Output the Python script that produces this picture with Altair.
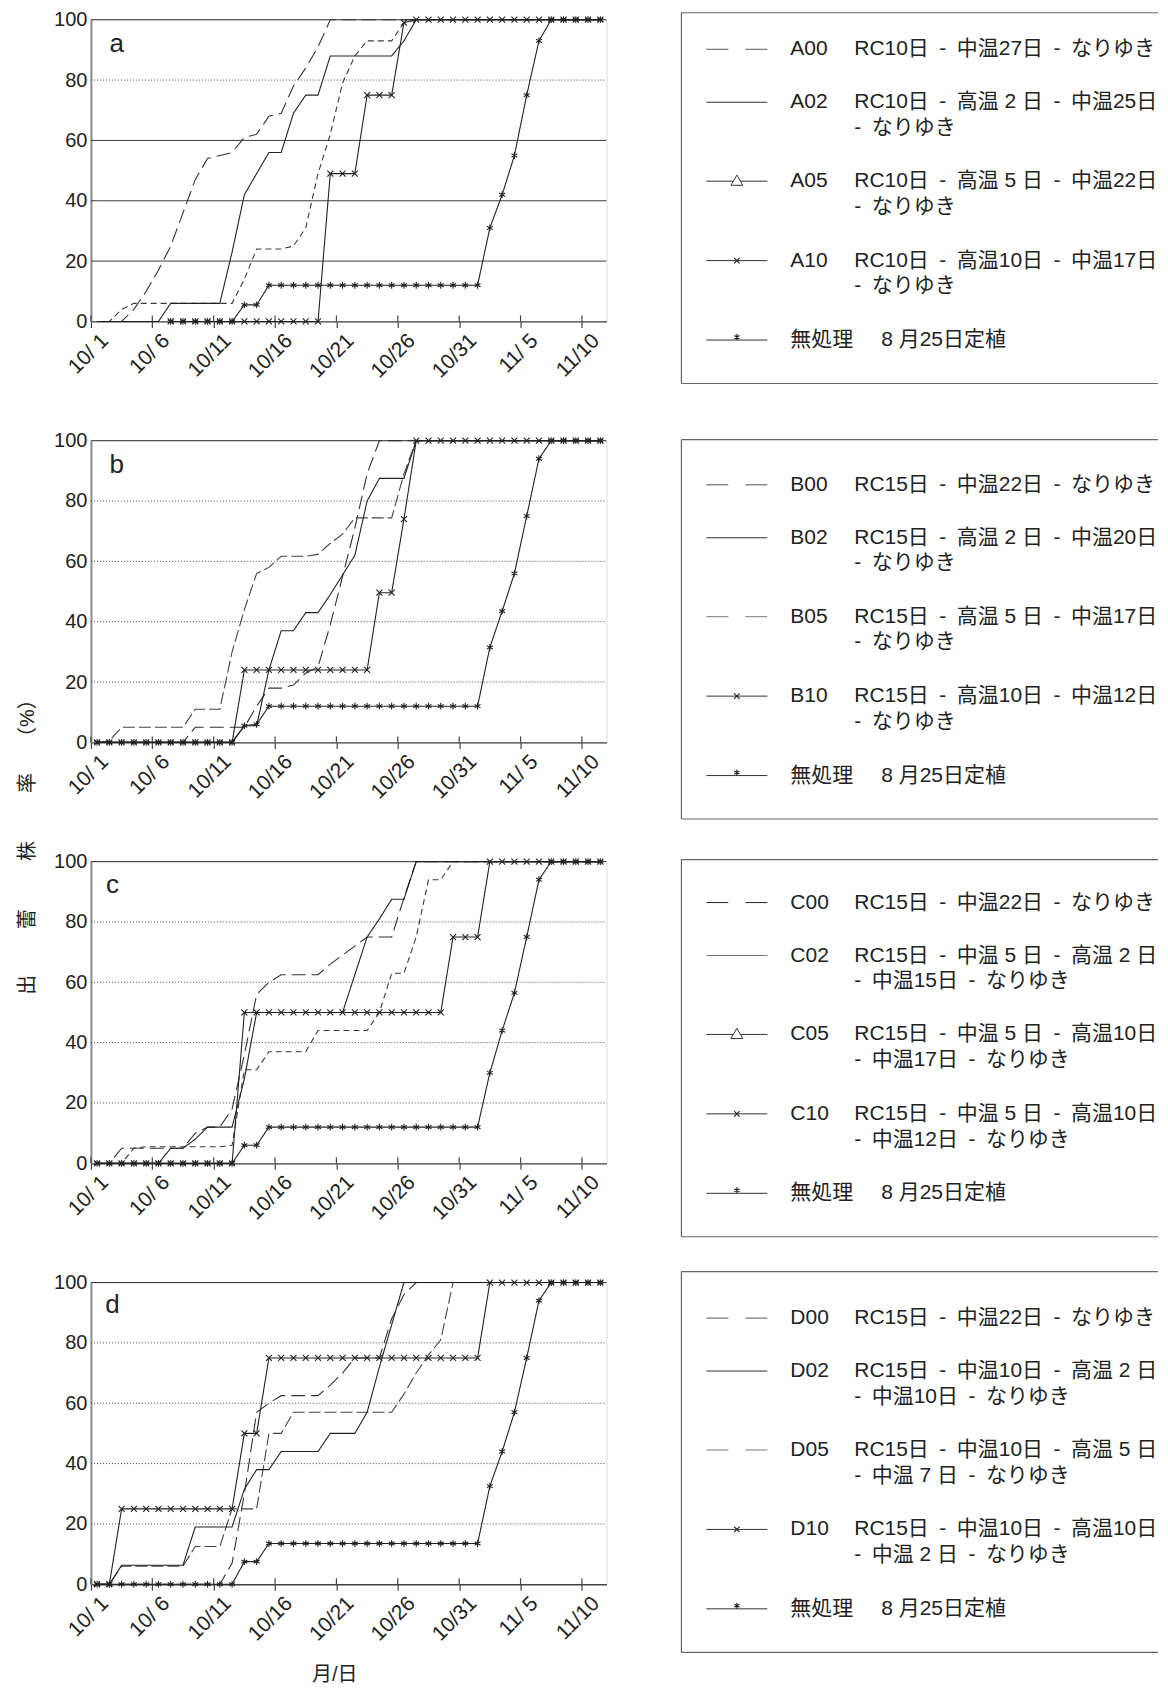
import altair as alt
import pandas as pd

FONT = "Liberation Sans, Noto Sans CJK JP"
W, H = 516, 302
ROW_GAP = 119.3
N = None

# ---------------- axis / grid values ----------------
x_tick_days = [0, 5, 10, 15, 20, 25, 30, 35, 40]
x_tick_labels = ["10/ 1", "10/ 6", "10/11", "10/16", "10/21", "10/26", "10/31", "11/ 5", "11/10"]
y_ticks = [0, 20, 40, 60, 80, 100]
grid_levels = [20, 40, 60, 80, 100]
grid_a = ["solid", "solid", "solid", "dot", "solid"]
grid_bcd = ["dot", "dot", "dot", "dot", "solid"]

# ---------------- panel a (day 0 = 10/1 ... day 41 = 11/11) ----------------
A00 = [0, 0, 0, 4, 10, 17, 25, 36, 47, 54, 55, 56, 61, 62,
       68, 69, 78, 84, 91, 100, 100, 100, 100, 100, 100, 100, 100, 100,
       100, 100, 100, 100, 100, 100, 100, 100, 100, 100, 100, 100, 100, 100]
A02 = [0, 0, 0, 0, 0, 0, 6, 6, 6, 6, 6, 23, 42, 49,
       56, 56, 69, 75, 75, 88, 88, 88, 88, 88, 88, 93, 100, 100,
       100, 100, 100, 100, 100, 100, 100, 100, 100, 100, 100, 100, 100, 100]
A05 = [0, 0, 4, 6, 6, 6, 6, 6, 6, 6, 6, 6, 14, 24,
       24, 24, 25, 31, 49, 62, 79, 88, 93, 93, 93, 99, 100, 100,
       100, 100, 100, 100, 100, 100, 100, 100, 100, 100, 100, 100, 100, 100]
A10 = [N, N, N, N, N, N, 0, 0, 0, 0, 0, 0, 0, 0,
       0, 0, 0, 0, 0, 49, 49, 49, 75, 75, 75, 99, 100, 100,
       100, 100, 100, 100, 100, 100, 100, 100, 100, 100, 100, 100, 100, 100]
SA = [N, N, N, N, N, N, 0, 0, 0, 0, 0, 0, 5.5, 5.5,
      12, 12, 12, 12, 12, 12, 12, 12, 12, 12, 12, 12, 12, 12,
      12, 12, 12, 12, 31, 42, 55, 75, 93, 100, 100, 100, 100, 100]

# ---------------- panel b ----------------
B00 = [0, 0, 0, 0, 0, 0, 0, 0, 5, 5, 5, 5, 5, 12,
       18, 18, 19, 23, 25, 39, 55, 71, 89, 100, 100, 100, 100, 100,
       100, 100, 100, 100, 100, 100, 100, 100, 100, 100, 100, 100, 100, 100]
B02 = [0, 0, 0, 0, 0, 0, 0, 0, 0, 0, 0, 0, 5.5, 5.5,
       24, 37, 37, 43, 43, 49, 55.5, 62, 80, 87.5, 87.5, 87.5, 100, 100,
       100, 100, 100, 100, 100, 100, 100, 100, 100, 100, 100, 100, 100, 100]
B05 = [0, 0.5, 5, 5, 5, 5, 5, 5, 11, 11, 11, 30, 44, 56,
       58, 61.7, 61.7, 61.7, 62.3, 66, 69, 74.4, 74.4, 74.4, 74.4, 89, 100, 100,
       100, 100, 100, 100, 100, 100, 100, 100, 100, 100, 100, 100, 100, 100]
B10 = [0, 0, 0, 0, 0, 0, 0, 0, 0, 0, 0, 0, 24, 24,
       24, 24, 24, 24, 24, 24, 24, 24, 24, 49.6, 49.6, 74, 100, 100,
       100, 100, 100, 100, 100, 100, 100, 100, 100, 100, 100, 100, 100, 100]
SB = [0, 0, 0, 0, 0, 0, 0, 0, 0, 0, 0, 0, 5.5, 6,
      12, 12, 12, 12, 12, 12, 12, 12, 12, 12, 12, 12, 12, 12,
      12, 12, 12, 12, 31.5, 43.5, 56, 75, 94, 100, 100, 100, 100, 100]

# ---------------- panel c ----------------
C00 = [0, 0, 5, 5, 5, 5, 5, 5, 10, 12, 12, 18, 36, 56,
       60, 62.5, 62.5, 62.5, 62.5, 66, 69, 72, 75, 75, 75, 88, 100, 100,
       100, 100, 100, 100, 100, 100, 100, 100, 100, 100, 100, 100, 100, 100]
C02 = [0, 0, 0, 0, 0, 0, 5, 5, 8, 12, 12, 12, 28, 50,
       50, 50, 50, 50, 50, 50, 50, 62.5, 75, 81, 87.5, 87.5, 100, 100,
       100, 100, 100, 100, 100, 100, 100, 100, 100, 100, 100, 100, 100, 100]
C05 = [0, 0, 0, 5, 5.5, 5.5, 5.5, 5.5, 5.5, 5.5, 5.5, 6, 31, 31,
       37, 37, 37, 37, 44, 44, 44, 44, 44, 50, 63, 63, 75, 94,
       94, 100, 100, 100, 100, 100, 100, 100, 100, 100, 100, 100, 100, 100]
C10 = [0, 0, 0, 0, 0, 0, 0, 0, 0, 0, 0, 0, 50, 50,
       50, 50, 50, 50, 50, 50, 50, 50, 50, 50, 50, 50, 50, 50,
       50, 75, 75, 75, 100, 100, 100, 100, 100, 100, 100, 100, 100, 100]
SC = [0, 0, 0, 0, 0, 0, 0, 0, 0, 0, 0, 0, 6, 6,
      12, 12, 12, 12, 12, 12, 12, 12, 12, 12, 12, 12, 12, 12,
      12, 12, 12, 12, 30, 44, 56.5, 75, 94, 100, 100, 100, 100, 100]

# ---------------- panel d ----------------
D00 = [0, 0, 0, 0, 0, 0, 0, 0, 0, 0, 0, 7, 30, 57,
       60, 62.5, 62.5, 62.5, 62.5, 66, 70, 75, 75, 75, 88, 96, 100, 100,
       100, 100, 100, 100, 100, 100, 100, 100, 100, 100, 100, 100, 100, 100]
D02 = [0, 0, 6.3, 6.3, 6.3, 6.3, 6.3, 6.3, 19, 19, 19, 19, 31.5, 38,
       38, 44, 44, 44, 44, 50, 50, 50, 57, 72, 86, 100, 100, 100,
       100, 100, 100, 100, 100, 100, 100, 100, 100, 100, 100, 100, 100, 100]
D05 = [0, 0, 6, 6, 6, 6, 6, 6, 12.5, 12.5, 12.5, 25, 25, 25,
       50, 50, 57, 57, 57, 57, 57, 57, 57, 57, 57, 63, 70, 76,
       81, 100, 100, 100, 100, 100, 100, 100, 100, 100, 100, 100, 100, 100]
D10 = [0, 0, 25, 25, 25, 25, 25, 25, 25, 25, 25, 25, 50, 50,
       75, 75, 75, 75, 75, 75, 75, 75, 75, 75, 75, 75, 75, 75,
       75, 75, 75, 75, 100, 100, 100, 100, 100, 100, 100, 100, 100, 100]
SD = [0, 0, 0, 0, 0, 0, 0, 0, 0, 0, 0, 0, 7.5, 7.5,
      13.5, 13.5, 13.5, 13.5, 13.5, 13.5, 13.5, 13.5, 13.5, 13.5, 13.5, 13.5, 13.5, 13.5,
      13.5, 13.5, 13.5, 13.5, 32.5, 44, 57, 75, 94, 100, 100, 100, 100, 100]

# ---------------- legend texts ----------------
legend_a = [("dash", "A00", ["RC10日 - 中温27日 - なりゆき"]),
            ("solid", "A02", ["RC10日 - 高温 2 日 - 中温25日", "- なりゆき"]),
            ("tri", "A05", ["RC10日 - 高温 5 日 - 中温22日", "- なりゆき"]),
            ("x", "A10", ["RC10日 - 高温10日 - 中温17日", "- なりゆき"]),
            ("star", "無処理", ["8 月25日定植"])]
legend_b = [("dash", "B00", ["RC15日 - 中温22日 - なりゆき"]),
            ("solid", "B02", ["RC15日 - 高温 2 日 - 中温20日", "- なりゆき"]),
            ("dash_light", "B05", ["RC15日 - 高温 5 日 - 中温17日", "- なりゆき"]),
            ("x", "B10", ["RC15日 - 高温10日 - 中温12日", "- なりゆき"]),
            ("star", "無処理", ["8 月25日定植"])]
legend_c = [("dash_dark", "C00", ["RC15日 - 中温22日 - なりゆき"]),
            ("solid_gray", "C02", ["RC15日 - 中温 5 日 - 高温 2 日", "- 中温15日 - なりゆき"]),
            ("tri", "C05", ["RC15日 - 中温 5 日 - 高温10日", "- 中温17日 - なりゆき"]),
            ("x", "C10", ["RC15日 - 中温 5 日 - 高温10日", "- 中温12日 - なりゆき"]),
            ("star", "無処理", ["8 月25日定植"])]
legend_d = [("dash", "D00", ["RC15日 - 中温22日 - なりゆき"]),
            ("solid", "D02", ["RC15日 - 中温10日 - 高温 2 日", "- 中温10日 - なりゆき"]),
            ("dash_light", "D05", ["RC15日 - 中温10日 - 高温 5 日", "- 中温 7 日 - なりゆき"]),
            ("x", "D10", ["RC15日 - 中温10日 - 高温10日", "- 中温 2 日 - なりゆき"]),
            ("star", "無処理", ["8 月25日定植"])]

ylab_chunks = ["出", "蕾", "株", "率", "（%）"]

# ---------------- styles / layout constants ----------------
STYLE_DOMAIN = ["dash", "short", "light", "solid", "xline", "starline"]
STYLE_DASH = [[14, 6], [6, 4], [12, 4], [1, 0], [1, 0], [1, 0]]
STYLE_COLOR = ["#333333", "#3a3a3a", "#444444", "#222222", "#222222", "#222222"]
X_PATH = "M-1,-1L1,1M-1,1L1,-1"
STAR_PATH = "M0,-1L0,1M-0.87,-0.5L0.87,0.5M-0.87,0.5L0.87,-0.5"

BOX_X0, BOX_X1 = 591, 1068
LINE_X0, LINE_X1, MARK_X = 616, 677, 646.5
CODE_X, DESC_X, PLANT_X = 700, 764, 791
ROW_Y = [43, 96, 175, 254.5, 334]
LINE2 = 25.7
BOX_H = 377.5
LFS = 21

BASE = pd.DataFrame({"k": [0]})
xscale = alt.Scale(domain=[0, 42], nice=False, zero=False)
yscale = alt.Scale(domain=[0, 100], nice=False, zero=True)
label_expr = ("[" + ",".join("'%s'" % t for t in x_tick_labels) + "][indexof(["
              + ",".join(str(d) for d in x_tick_days) + "], datum.value)]")
xaxis = alt.Axis(values=x_tick_days, labelExpr=label_expr, labelAngle=-45, labelFontSize=21,
                 labelFont=FONT, labelColor="#222222", labelFlush=False, labelOverlap=False,
                 labelBound=False, labelOffset=6, labelPadding=2, tickSize=6, tickColor="#444444",
                 tickWidth=1.2, domainColor="#444444", domainWidth=1.3, grid=False, title=None)
yaxis = alt.Axis(values=y_ticks, labelFontSize=20, labelFont=FONT, labelColor="#222222",
                 ticks=False, labelPadding=4, domainColor="#8a8a8a", domainWidth=2,
                 grid=False, title=None, labelFlush=False)


def sp(s):
    s = s.replace(" - ", "\u2002-\u2002")
    if s.startswith("- "):
        s = "-\u2002" + s[2:]
    return s


def text_layer(txt, x, y, size=LFS, align="left", baseline="middle", angle=None):
    kw = dict(text=txt, align=align, baseline=baseline, fontSize=size, font=FONT, color="#222222")
    if angle is not None:
        kw["angle"] = angle
    return alt.Chart(BASE).mark_text(**kw).encode(x=alt.value(x), y=alt.value(y))


def hrule(x0, x1, y, color="#555555", dash=None, width=1.0):
    kw = dict(color=color, strokeWidth=width)
    if dash:
        kw["strokeDash"] = dash
    return alt.Chart(BASE).mark_rule(**kw).encode(x=alt.value(x0), x2=alt.value(x1), y=alt.value(y))


def vrule(x, y0, y1, color="#666666", width=1.2):
    return alt.Chart(BASE).mark_rule(color=color, strokeWidth=width).encode(
        x=alt.value(x), y=alt.value(y0), y2=alt.value(y1))


def glyph_point(x, y, shape, size, filled=False):
    if filled:
        m = alt.Chart(BASE).mark_point(shape=shape, size=size, filled=True, fill="white",
                                       stroke="#333333", strokeWidth=1, opacity=1)
    else:
        m = alt.Chart(BASE).mark_point(shape=shape, size=size, filled=False,
                                       color="#222222", strokeWidth=1.2, opacity=1)
    return m.encode(x=alt.value(x), y=alt.value(y))


def legend_layers(items, top, line_top):
    layers = []
    layers.append(hrule(BOX_X0, BOX_X1, line_top, "#666666", width=1.2))
    layers.append(hrule(BOX_X0, BOX_X1, top + BOX_H, "#666666", width=1.2))
    layers.append(vrule(BOX_X0, line_top, top + BOX_H))
    for (glyph, code, desc), ry in zip(items, ROW_Y):
        y = top + ry
        if glyph == "dash":
            layers.append(hrule(LINE_X0, LINE_X1, y, "#555555", [22, 17]))
        elif glyph == "dash_dark":
            layers.append(hrule(LINE_X0, LINE_X1, y, "#222222", [22, 17]))
        elif glyph == "dash_light":
            layers.append(hrule(LINE_X0, LINE_X1, y, "#777777", [22, 17]))
        elif glyph == "solid_gray":
            layers.append(hrule(LINE_X0, LINE_X1, y, "#777777"))
        else:
            layers.append(hrule(LINE_X0, LINE_X1, y, "#333333"))
        if glyph == "tri":
            layers.append(glyph_point(MARK_X, y - 1, "triangle-up", 140, filled=True))
        elif glyph == "x":
            layers.append(glyph_point(MARK_X, y, X_PATH, 30))
        elif glyph == "star":
            layers.append(glyph_point(MARK_X, y - 3, STAR_PATH, 36))
        layers.append(text_layer(code, CODE_X, y))
        if glyph == "star":
            layers.append(text_layer(desc[0], PLANT_X, y))
        else:
            for i, line in enumerate(desc):
                layers.append(text_layer(sp(line), DESC_X, y + i * LINE2))
    return layers


def panel(entries, grid_styles, letter, letter_pos, legend_items, legend_top, line_top, extra=None):
    rows = []
    for code, vals, style in entries:
        for d, v in enumerate(vals):
            rows.append({"series": code, "style": style, "x": d + 0.5, "v": v})
    df = pd.DataFrame(rows)
    gdf = pd.DataFrame({"g": grid_levels, "gs": grid_styles})
    tdf = pd.DataFrame({"t": x_tick_days})

    X = alt.X("x:Q", scale=xscale, axis=xaxis)
    Y = alt.Y("v:Q", scale=yscale, axis=yaxis)

    grid_solid = alt.Chart(gdf).transform_filter(alt.datum.gs == "solid").mark_rule(
        color="#3a3a3a", strokeWidth=1).encode(
        y=alt.Y("g:Q", scale=yscale, axis=yaxis), x=alt.value(0), x2=alt.value(W))
    grid_dot = alt.Chart(gdf).transform_filter(alt.datum.gs == "dot").mark_rule(
        color="#444444", strokeWidth=1, strokeDash=[1, 2]).encode(
        y=alt.Y("g:Q", scale=yscale, axis=yaxis), x=alt.value(0), x2=alt.value(W))
    inner_ticks = alt.Chart(tdf).mark_rule(color="#444444", strokeWidth=1.2).encode(
        x=alt.X("t:Q", scale=xscale, axis=xaxis), y=alt.value(H - 6), y2=alt.value(H))

    lines = alt.Chart(df).mark_line(strokeWidth=1.1).encode(
        x=X, y=Y, detail="series:N",
        strokeDash=alt.StrokeDash("style:N", scale=alt.Scale(domain=STYLE_DOMAIN, range=STYLE_DASH), legend=None),
        color=alt.Color("style:N", scale=alt.Scale(domain=STYLE_DOMAIN, range=STYLE_COLOR), legend=None))
    xpts = alt.Chart(df).transform_filter(alt.datum.style == "xline").mark_point(
        shape=X_PATH, size=36, filled=False, color="#222222", strokeWidth=1.1, opacity=1).encode(x=X, y=Y)
    spts = alt.Chart(df).transform_filter(alt.datum.style == "starline").mark_point(
        shape=STAR_PATH, size=46, filled=False, color="#222222", strokeWidth=1.1, opacity=1).encode(x=X, y=Y)

    layers = [grid_solid, grid_dot, inner_ticks, lines, xpts, spts,
              text_layer(letter, letter_pos[0], letter_pos[1], size=26, baseline="alphabetic")]
    layers += legend_layers(legend_items, legend_top, line_top)
    if extra:
        layers += extra
    return alt.layer(*layers).properties(width=W, height=H)


pa = panel([("A00", A00, "dash"), ("A05", A05, "short"), ("A02", A02, "solid"),
            ("A10", A10, "xline"), ("無処理", SA, "starline")],
           grid_a, "a", (18.6, 32.5), legend_a, -13.4, -7)
pb = panel([("B00", B00, "dash"), ("B05", B05, "light"), ("B02", B02, "solid"),
            ("B10", B10, "xline"), ("無処理", SB, "starline")],
           grid_bcd, "b", (18.6, 32.2), legend_b, 1.2, -1)

ylab_y = [123.4, 57.4, -10.6, -78.6, -143.6]
ylab_layers = [text_layer(c, -62.7, yy, size=20, align="center", angle=270)
               for c, yy in zip(ylab_chunks, ylab_y)]
pc = panel([("C00", C00, "dash"), ("C05", C05, "short"), ("C02", C02, "solid"),
            ("C10", C10, "xline"), ("無処理", SC, "starline")],
           grid_bcd, "c", (15, 31), legend_c, -2, -2, extra=ylab_layers)
pd_ = panel([("D00", D00, "dash"), ("D05", D05, "light"), ("D02", D02, "solid"),
             ("D10", D10, "xline"), ("無処理", SD, "starline")],
            grid_bcd, "d", (14.3, 31), legend_d, -7.4, -11,
            extra=[text_layer("月/日", 244, 393, size=20, align="center")])

chart = alt.vconcat(pa, pb, pc, pd_, spacing=ROW_GAP, bounds="flush").properties(
    padding={"left": 9, "top": 0, "right": 0, "bottom": 0}, background="white"
).configure_view(stroke=None).configure(font=FONT)

chart.save("out.html", embed_options={"renderer": "svg", "actions": False})
